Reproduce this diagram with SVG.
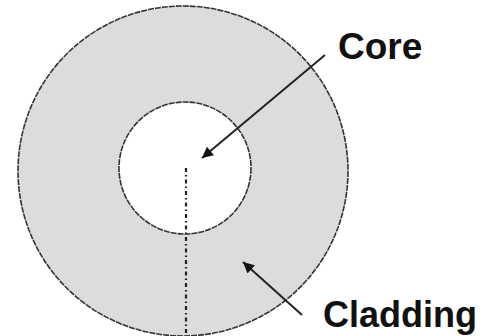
<svg xmlns="http://www.w3.org/2000/svg" width="494" height="336" viewBox="0 0 494 336">
<style>
.ring{stroke:#333;stroke-width:1.6;stroke-dasharray:6 1}
.lbl{font-family:"Liberation Sans",Arial,sans-serif;font-weight:bold;font-size:37px;fill:#111}
.arr{stroke:#222;stroke-width:2;fill:none}
</style>
<defs>
<marker id="ah" viewBox="0 0 10 10" refX="10" refY="5" markerWidth="8" markerHeight="5.5" markerUnits="strokeWidth" orient="auto">
<path d="M0,0 L10,5 L0,10 z" fill="#111"/>
</marker>
</defs>
<rect width="494" height="336" fill="#fff"/>
<g id="cladding">
<circle class="ring" cx="183" cy="171" r="165" fill="#dcdcdc"/>
</g>
<g id="core">
<circle class="ring" cx="185" cy="168" r="66" fill="#fff"/>
</g>
<g id="axis">
<line x1="186" y1="168" x2="186" y2="336" stroke="#222" stroke-width="2.2" stroke-dasharray="4 3 1.5 3"/>
</g>
<g id="connectors">
<line class="arr" x1="325" y1="55" x2="202" y2="158" marker-end="url(#ah)"/>
<line class="arr" x1="302" y1="315" x2="243" y2="262" marker-end="url(#ah)"/>
</g>
<g id="label-core"><text class="lbl" x="338" y="59">Core</text></g>
<g id="label-cladding"><text class="lbl" x="323" y="327" style="font-size:36px">Cladding</text></g>
</svg>
